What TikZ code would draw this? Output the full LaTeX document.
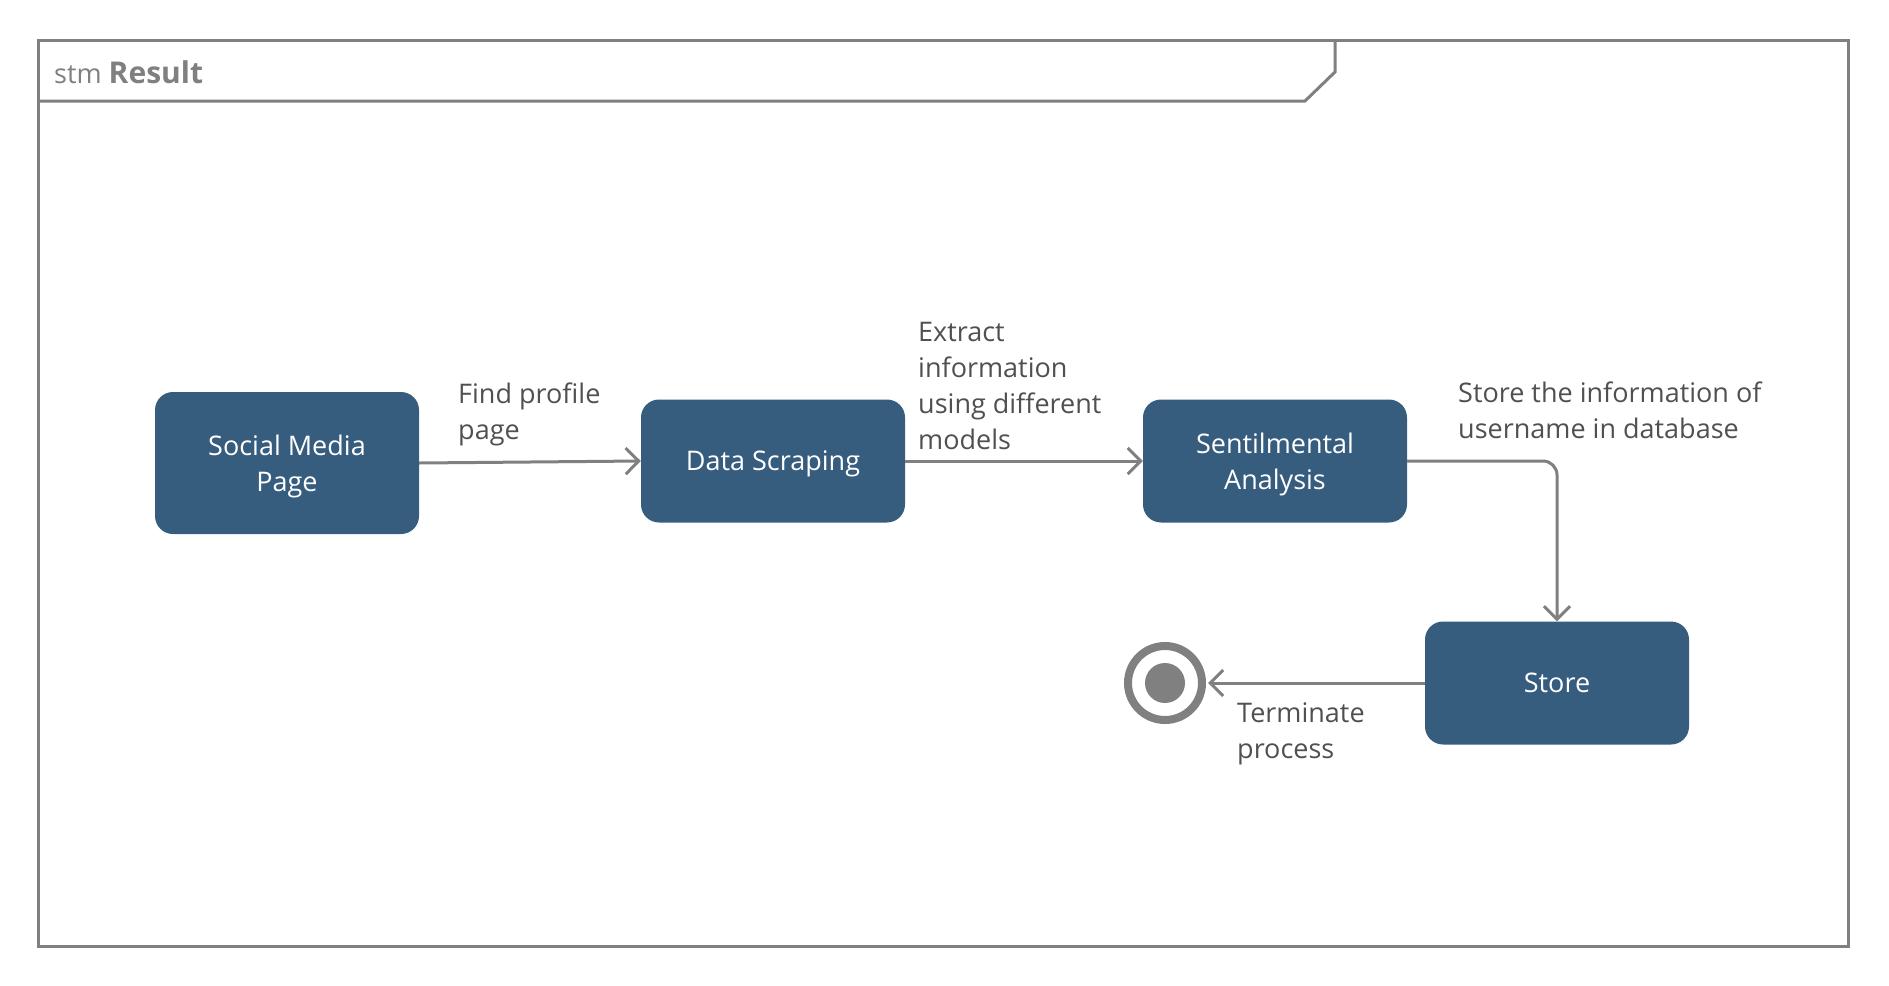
\documentclass[tikz,border=0pt]{standalone}
\usepackage{fontspec}
\setmainfont{Open Sans}
\usetikzlibrary{arrows.meta,positioning}
\definecolor{boxblue}{RGB}{54,92,126}
\definecolor{linegray}{RGB}{128,128,128}
\definecolor{textgray}{RGB}{80,80,80}
\tikzset{
  statebox/.style={rectangle, rounded corners=18, fill=boxblue, text=white,
    minimum width=264, minimum height=123, align=center, text depth=0pt,
    font=\fontsize{27}{36}\selectfont},
  flow/.style={draw=linegray, line width=3,
    -{Straight Barb[length=13pt, width=26pt, line width=3pt]}},
  flowlabel/.style={anchor=west, align=left, text=textgray,
    font=\fontsize{27}{36}\selectfont, inner sep=0}
}
\begin{document}
\begin{tikzpicture}[x=1pt, y=-1pt]
    \useasboundingbox (0,0) rectangle (1889,985);
    % frame with header tab
    \draw[linegray, line width=3] (38,40) rectangle (1848,946);
    \draw[linegray, line width=3] (38,101) -- (1305,101) -- (1335,72) -- (1335,40);
    \node[anchor=west, text=linegray, inner sep=0] (title) at (54,72)
        {\fontsize{27}{30}\selectfont stm \fontsize{30}{34}\selectfont\bfseries Result};
    % states
    \node[statebox, minimum height=142] (social) at (287,463) {Social Media\\Page};
    \node[statebox] (scrape) at (773,461) {Data Scraping};
    \node[statebox] (senti) at (1275,461) {Sentilmental\\Analysis};
    \node[statebox] (store) at (1557,683) {Store};
    % final state
    \node[circle, draw=linegray, line width=8, minimum size=74, inner sep=0] (final) at (1165,683) {};
    \node[circle, fill=linegray, minimum size=40, inner sep=0] (finaldot) at (final) {};
    % transitions
    \draw[flow] (social.east) -- (scrape.west);
    \draw[flow] (scrape.east) -- (senti.west);
    \draw[flow, rounded corners=14] (senti.east) -| (store.north);
    \draw[flow] (store.west) -- ([xshift=2]final.east);
    % labels
    \node[flowlabel] (lblfind) at (458,414) {Find profile\\page};
    \node[flowlabel] (lblextract) at (918,386) {Extract\\information\\using different\\models};
    \node[flowlabel] (lblstore) at (1458,410) {Store the information of\\username in database};
    \node[flowlabel] (lblterm) at (1237,734) {Terminate\\process};
\end{tikzpicture}
\end{document}
